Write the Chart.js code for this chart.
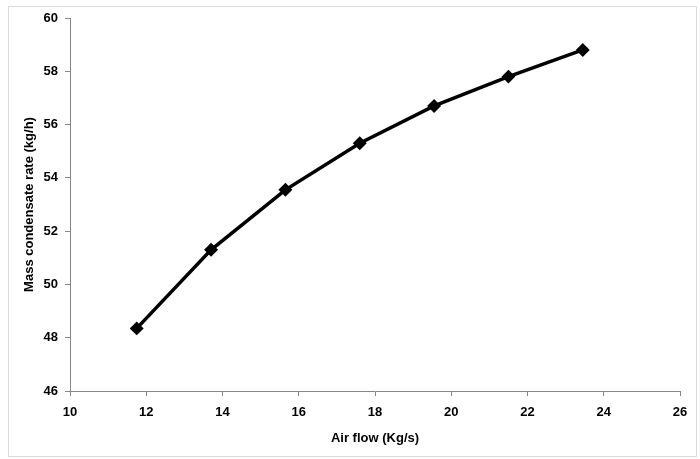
<!DOCTYPE html>
<html lang="en">
<head>
  <meta charset="UTF-8">
  <title>Mass condensate rate vs Air flow</title>
  <script src="https://cdn.jsdelivr.net/npm/chart.js"></script>
  <style>
    html, body { margin: 0; padding: 0; background: #fff; }
    #wrap { position: relative; width: 700px; height: 459px; }
  </style>
</head>
<body>
  <div id="wrap"><canvas id="chart"></canvas></div>
  <script>
    const airFlow = [11.75, 13.7, 15.65, 17.6, 19.55, 21.5, 23.45];
    const condensate = [48.35, 51.3, 53.55, 55.3, 56.7, 57.8, 58.8];
    const xRange = { min: 10, max: 26, step: 2 };
    const yRange = { min: 46, max: 60, step: 2 };

    const font = { family: 'Liberation Sans, Arial, sans-serif', size: 13, weight: 'bold' };

    // light grey frame round the whole chart
    const framePlugin = {
      id: 'frame',
      beforeDraw(chart) {
        const ctx = chart.ctx;
        ctx.save();
        ctx.strokeStyle = '#d9d9d9';
        ctx.lineWidth = 1;
        ctx.strokeRect(8.5, 6.5, 688, 450);
        ctx.restore();
      }
    };

    new Chart(document.getElementById('chart'), {
      type: 'scatter',
      data: {
        datasets: [{
          data: airFlow.map((x, i) => ({ x, y: condensate[i] })),
          showLine: true,
          borderColor: '#000',
          backgroundColor: '#000',
          borderWidth: 3.5,
          pointStyle: 'rectRot',
          pointRadius: 4.5,
          pointHoverRadius: 4.5
        }]
      },
      options: {
        responsive: true,
        maintainAspectRatio: false,
        animation: false,
        layout: { padding: { left: 10, right: 20, top: 18, bottom: 0 } },
        plugins: { legend: { display: false }, tooltip: { enabled: false } },
        scales: {
          x: {
            type: 'linear',
            min: xRange.min, max: xRange.max,
            ticks: { stepSize: xRange.step, color: '#000', font, padding: 9 },
            grid: { drawOnChartArea: false, drawTicks: true, tickLength: 5, color: '#868686' },
            border: { color: '#868686' },
            title: { display: true, text: 'Air flow (Kg/s)', color: '#000', font, padding: { bottom: 13 } },
            afterFit(scale) { scale.height = 68; }
          },
          y: {
            type: 'linear',
            min: yRange.min, max: yRange.max,
            ticks: { stepSize: yRange.step, color: '#000', font, padding: 7 },
            grid: { drawOnChartArea: false, drawTicks: true, tickLength: 5, color: '#868686' },
            border: { color: '#868686' },
            title: { display: true, text: 'Mass condensate rate (kg/h)', color: '#000', font, padding: { top: 12 } },
            afterFit(scale) { scale.width = 60; }
          }
        }
      },
      plugins: [framePlugin]
    });
  </script>
</body>
</html>
